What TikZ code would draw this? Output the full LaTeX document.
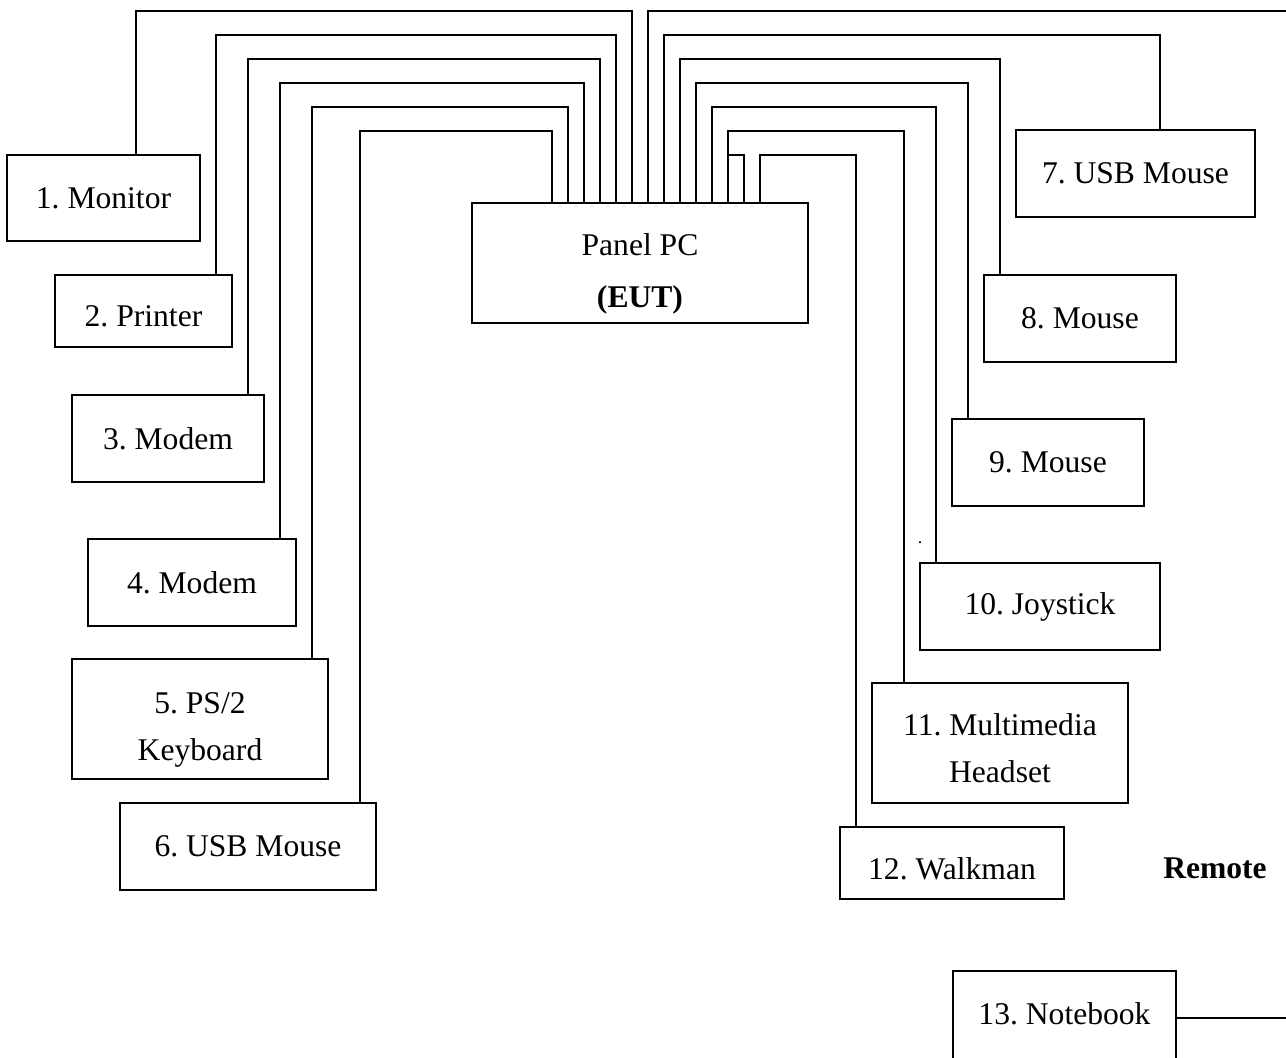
\documentclass[tikz,border=0pt]{standalone}
\usepackage{fontspec}
\setmainfont{Liberation Serif}
\usepackage{tikz}
\frenchspacing

\begin{document}
\begin{tikzpicture}[x=0.5pt,y=-0.5pt]
\tikzstyle{every node}=[font=\fontsize{15.8}{23.5}\selectfont]
\tikzstyle{device}=[draw,line width=1pt,align=center,inner sep=0pt]
\tikzstyle{cable}=[line width=1pt]
\useasboundingbox (0,0) rectangle (1286,1057);
\clip (0,0) rectangle (1286,1057);

\node[device,minimum width=168pt,minimum height=60pt] (panel) at (640,263) {\rule{0pt}{22pt}Panel PC\\[2.5pt]\textbf{(EUT)}};

\node[device,minimum width=96.5pt,minimum height=43pt] (monitor) at (103.5,198) {1. Monitor};
\node[device,minimum width=88.5pt,minimum height=36pt] (printer) at (143.5,311) {\rule{0pt}{16pt}2. Printer};
\node[device,minimum width=96pt,minimum height=43.5pt] (modemA) at (168,438.5) {3. Modem};
\node[device,minimum width=104pt,minimum height=43.5pt] (modemB) at (192,582.5) {4. Modem};
\node[device,minimum width=128pt,minimum height=60pt] (keyboard) at (200,719) {\rule{0pt}{21pt}5. PS/2\\Keyboard};
\node[device,minimum width=128pt,minimum height=43.5pt] (usbmouseA) at (248,846.5) {6. USB Mouse};

\node[device,minimum width=119.5pt,minimum height=43.5pt] (usbmouseB) at (1135.5,173.5) {7. USB Mouse};
\node[device,minimum width=96pt,minimum height=43.5pt] (mouseA) at (1080,318.5) {8. Mouse};
\node[device,minimum width=96pt,minimum height=43.5pt] (mouseB) at (1048,462.5) {9. Mouse};
\node[device,minimum width=120pt,minimum height=43.5pt] (joystick) at (1040,606.5) {10. Joystick};
\node[device,minimum width=128pt,minimum height=60pt] (headset) at (1000,743) {\rule{0pt}{16pt}11. Multimedia\\Headset};
\node[device,minimum width=112pt,minimum height=36pt] (walkman) at (952,863) {\rule{0pt}{17pt}12. Walkman};

\node (remote) at (1215,868) {\textbf{Remote}};
\node[device,minimum width=111.5pt,minimum height=47pt] (notebook) at (1064.5,1018) {13. Notebook\rule[-4pt]{0pt}{4pt}};
\node[inner sep=0pt] (stray) at (920,543) {\fontsize{9}{9}\selectfont .};

\coordinate (remoteA) at (1286,11);
\coordinate (remoteB) at (1286,1018);

\foreach \wx/\ly/\ex/\dev in {552/131/360/usbmouseA, 568/107/312/keyboard, 584/83/280/modemB,
  600/59/248/modemA, 616/35/216/printer, 632/11/136/monitor,
  664/35/1160/usbmouseB, 680/59/1000/mouseA, 696/83/968/mouseB,
  712/107/936/joystick, 728/131/904/headset, 760/155/856/walkman}
  \draw[cable] (\wx,0 |- panel.north) |- (\ex,\ly) -- (\ex,0 |- \dev.north);

\draw[cable] (648,0 |- panel.north) |- (remoteA);
\draw[cable] (744,0 |- panel.north) |- (728,155);
\draw[cable] (notebook.east) -- (remoteB);
\end{tikzpicture}
\end{document}
